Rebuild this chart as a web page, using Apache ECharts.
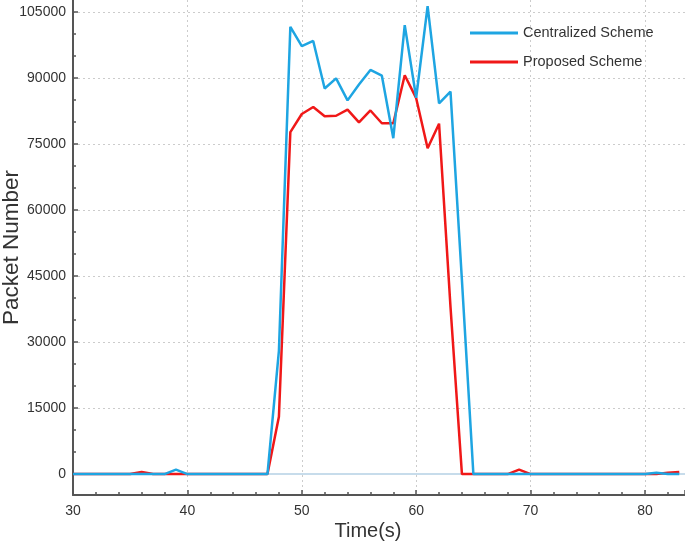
<!DOCTYPE html>
<html>
<head>
<meta charset="utf-8">
<script src="https://cdn.jsdelivr.net/npm/echarts@6/dist/echarts.min.js"></script>
<style>html,body{margin:0;padding:0;background:#fff}#c{width:685px;height:545px}</style>
</head>
<body>
<div id="c"></div>
<script>
const times = [30,31,32,33,34,35,36,37,38,39,40,41,42,43,44,45,46,47,48,49,50,51,52,53,54,55,56,57,58,59,60,61,62,63,64,65,66,67,68,69,70,71,72,73,74,75,76,77,78,79,80,81,82,83];
const centralized = [0,0,0,0,0,0,0,0,0,1000,0,0,0,0,0,0,0,0,28000,101600,97200,98400,87600,89900,84900,88500,91800,90500,76300,102000,85500,106300,84200,86900,44000,0,0,0,0,0,0,0,0,0,0,0,0,0,0,0,0,300,0,0];
const proposed = [0,0,0,0,0,0,500,0,0,0,0,0,0,0,0,0,0,0,13000,77700,81800,83400,81300,81400,82800,79900,82600,79700,79700,90600,85400,74000,79600,38000,0,0,0,0,0,1000,0,0,0,0,0,0,0,0,0,0,0,0,300,500];
const seriesNames = ['Centralized Scheme', 'Proposed Scheme'];
const yTicks = [0,15000,30000,45000,60000,75000,90000,105000];
const yMinorTicks = [5000,10000,20000,25000,35000,40000,50000,55000,65000,70000,80000,85000,95000,100000];

const font = 'Liberation Sans, Arial, sans-serif';
const chart = echarts.init(document.getElementById('c'));
const pair = (arr) => times.map((t, i) => [t, arr[i]]);
chart.setOption({
  animation: false,
  backgroundColor: '#fff',
  grid: { left: 73, right: 0, top: 0, bottom: 50, outerBoundsMode: 'none', containLabel: false },
  legend: {
    orient: 'vertical', left: 465, top: 20, itemWidth: 48, itemHeight: 3, itemGap: 13,
    icon: 'rect',
    data: seriesNames,
    textStyle: { fontFamily: font, fontSize: 14.5, color: '#333', lineHeight: 16 }
  },
  xAxis: {
    type: 'value', min: 30, max: 83.5, interval: 10,
    name: 'Time(s)', nameLocation: 'middle', nameGap: 26, nameMoveOverlap: false,
    nameTextStyle: { fontFamily: font, fontSize: 20, color: '#333', padding: [0, 22, 0, 0] },
    axisLine: { show: true, onZero: false, lineStyle: { color: '#555', width: 2 } },
    axisTick: { show: true, inside: true, length: 5, lineStyle: { color: '#555', width: 1.5 } },
    minorTick: { show: true, splitNumber: 5, length: 3, lineStyle: { color: '#555', width: 1.5 } },
    axisLabel: { fontFamily: font, fontSize: 14, color: '#333', margin: 9, showMaxLabel: false },
    splitLine: { show: true, lineStyle: { color: '#ccc', type: [2, 3], width: 1 } }
  },
  yAxis: [{
    type: 'value', min: -4750, max: 107700,
    name: 'Packet Number', nameLocation: 'middle', nameGap: 50, nameMoveOverlap: false,
    nameTextStyle: { fontFamily: font, fontSize: 22.5, color: '#333' },
    axisLine: { show: true, onZero: false, lineStyle: { color: '#555', width: 2 } },
    axisTick: { show: true, inside: true, length: 5, customValues: yTicks, lineStyle: { color: '#555', width: 1.5 } },
    minorTick: { show: false },
    axisLabel: { fontFamily: font, fontSize: 14, color: '#333', margin: 7, customValues: yTicks, formatter: v => String(v) },
    splitLine: { show: false }
  }, {
    type: 'value', min: -4750, max: 107700, position: 'left', offset: 0,
    axisLine: { show: false },
    axisTick: { show: true, inside: true, length: 3, customValues: yMinorTicks, lineStyle: { color: '#555', width: 1.5 } },
    axisLabel: { show: false },
    splitLine: { show: false }
  }],
  series: [
    {
      name: seriesNames[1], type: 'line', data: pair(proposed), showSymbol: false, symbol: 'none', z: 3,
      lineStyle: { color: '#f01818', width: 2.5 }, itemStyle: { color: '#f01818' },
      markLine: {
        silent: true, symbol: 'none', z: 1, label: { show: false },
        lineStyle: { color: '#c7dceb', width: 2, type: 'solid' },
        data: [{ yAxis: 0 }]
      }
    },
    {
      name: seriesNames[0], type: 'line', data: pair(centralized), showSymbol: false, symbol: 'none', z: 4,
      lineStyle: { color: '#1ea5e2', width: 2.5 }, itemStyle: { color: '#1ea5e2' }
    },
    {
      name: 'grid', type: 'line', data: [], silent: true, z: 0,
      markLine: {
        silent: true, symbol: 'none', z: 0, label: { show: false }, animation: false,
        lineStyle: { color: '#ccc', width: 1, type: [2, 3] },
        data: yTicks.slice(1).map(v => ({ yAxis: v }))
      }
    }
  ]
});
</script>
</body>
</html>
